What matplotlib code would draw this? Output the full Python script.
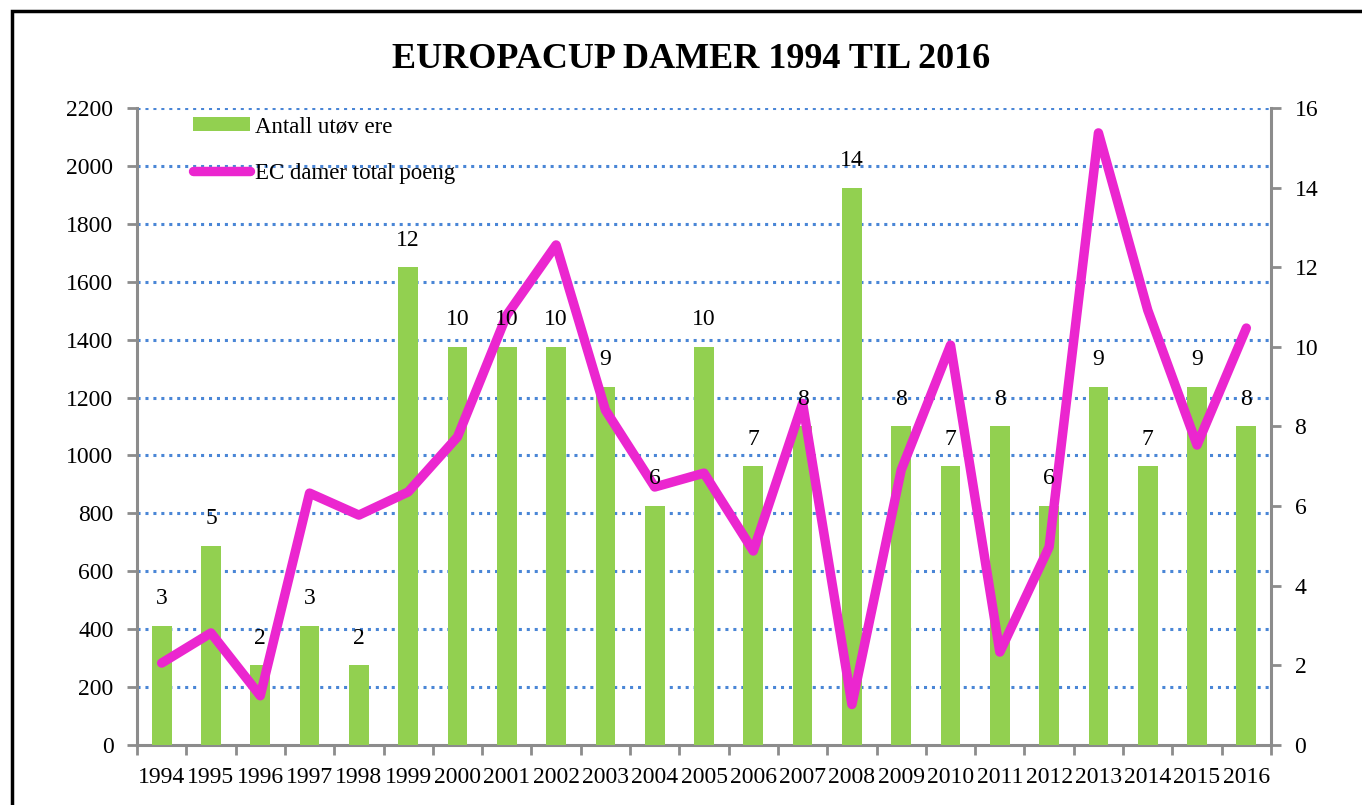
import matplotlib
matplotlib.use("Agg")
import matplotlib.pyplot as plt
from matplotlib.patches import Rectangle
from matplotlib.lines import Line2D
from matplotlib.patches import Patch
import numpy as np

plt.rcParams['font.family'] = ['Liberation Serif', 'DejaVu Serif']

years = [str(y) for y in range(1994, 2017)]
antall = [3, 5, 2, 3, 2, 12, 10, 10, 10, 9, 6, 10, 7, 8, 14, 8, 7, 8, 6, 9, 7, 9, 8]
poeng = [283, 387, 170, 870, 794, 874, 1064, 1485, 1727, 1157, 891, 939, 670, 1180,
         140, 950, 1381, 321, 684, 2114, 1502, 1036, 1440]
left_ticks = list(range(0, 2201, 200))
right_ticks = list(range(0, 17, 2))

title = "EUROPACUP DAMER 1994 TIL 2016"
label_bars = "Antall utøv ere"
label_line = "EC damer total poeng"

W, H = 1362, 805
fig = plt.figure(figsize=(W / 100, H / 100), dpi=100)

# outer border
fig.patches.append(Rectangle((12 / W, -0.05), 1.2, 1 - 11 / H + 0.05, transform=fig.transFigure,
                             fill=False, edgecolor='black', linewidth=2.5))

pos = [137 / W, 1 - 745 / H, (1271 - 137) / W, (745 - 108) / H]
ax = fig.add_axes(pos)
ax2 = ax.twinx()
ax3 = ax.twinx()

x = np.arange(len(years))
grey = '#8c8c8c'
fs = 17

# left axis (scale for line) with grid
ax.set_ylim(0, 2200)
ax.set_yticks(left_ticks)
ax.set_yticklabels([str(v) for v in left_ticks], fontsize=fs)
ax.set_xlim(-0.5, len(years) - 0.5)
ax.set_xticks(x)
ax.set_xticklabels(years, fontsize=fs)
ax.set_xticks(np.arange(-0.5, len(years), 1.0), minor=True)
ax.tick_params(axis='x', which='major', length=0, pad=16)
ax.tick_params(axis='x', which='minor', length=7, width=2, color=grey, direction='out')
ax.tick_params(axis='y', length=7, width=2, color=grey, pad=10)
for v in left_ticks[1:]:
    ax.axhline(v, color='#4a86d6', linestyle=(0, (1, 1.6)), linewidth=2.2, zorder=0)
for s in ['top', 'right']:
    ax.spines[s].set_visible(False)
for s in ['left', 'bottom']:
    ax.spines[s].set_color(grey)
    ax.spines[s].set_linewidth(2.2)

# right axis: bars
ax2.set_ylim(0, 16)
ax2.set_yticks(right_ticks)
ax2.set_yticklabels([str(v) for v in right_ticks], fontsize=fs)
ax2.tick_params(axis='y', length=7, width=2, color=grey, pad=10)
for s in ['top', 'left', 'bottom']:
    ax2.spines[s].set_visible(False)
ax2.spines['right'].set_color(grey)
ax2.spines['right'].set_linewidth(2.2)
bars = ax2.bar(x, antall, width=0.40, color='#92D050', zorder=2)

# line on top
ax3.set_ylim(0, 2200)
ax3.set_xlim(-0.5, len(years) - 0.5)
ax3.axis('off')
ax3.plot(x, poeng, color='#EB26CF', linewidth=6.8, solid_capstyle='round',
         solid_joinstyle='round', zorder=3)

# bar value labels on top of everything
for xi, v in zip(x, antall):
    ax3.annotate(str(v), xy=(xi, v * 2200 / 16), xytext=(0, 12), textcoords='offset points',
                 ha='center', va='bottom', fontsize=fs, zorder=5)

# legend
handles = [Patch(facecolor='#92D050', edgecolor='none'),
           Line2D([0], [0], color='#EB26CF', linewidth=6.8, solid_capstyle='round')]
leg = ax3.legend(handles, [label_bars, label_line], loc='upper left',
                 bbox_to_anchor=(40 / (1271 - 137), 1.012), frameon=False, fontsize=16.5,
                 handlelength=2.5, handleheight=0.55, handletextpad=0.2, labelspacing=1.1,
                 borderaxespad=0.3)

fig.text(691 / W, 1 - 60 / H, title, ha='center', va='center', fontsize=26, fontweight='bold')

fig.savefig('out.png', dpi=100)
